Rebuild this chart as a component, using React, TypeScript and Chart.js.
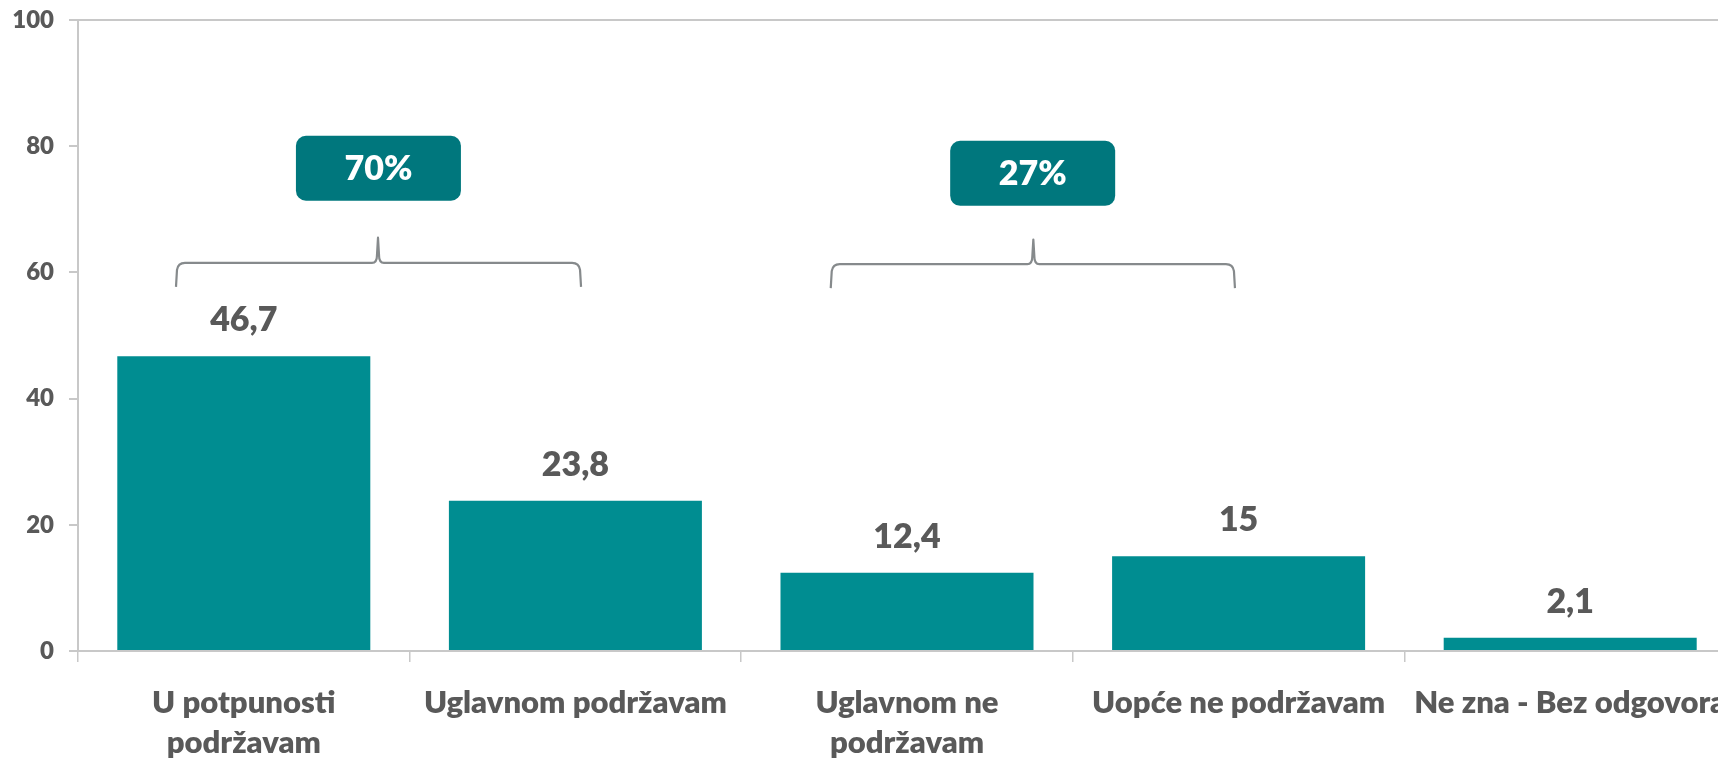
import React, { useEffect, useRef } from "react";
import { Chart, registerables } from "chart.js";

Chart.register(...registerables);

const categories: (string | string[])[] = [
  ["U potpunosti", "podržavam"],
  "Uglavnom podržavam",
  ["Uglavnom ne", "podržavam"],
  "Uopće ne podržavam",
  "Ne zna - Bez odgovora",
];
const values = [46.7, 23.8, 12.4, 15, 2.1];
const valueLabels = ["46,7", "23,8", "12,4", "15", "2,1"];
const yTicks = [0, 20, 40, 60, 80, 100];

// group annotations (category-index / value units)
const groupLabels = ["70%", "27%"];
const groupBoxX = [0.406, 2.379];
const groupBoxY = [76.5, 75.7];
const bracketLeft = [-0.2045, 1.77];
const bracketRight = [1.017, 2.989];
const bracketPeak = [0.4047, 2.381];
const bracketBottom = [57.7, 57.5];
const bracketMid = [61.5, 61.3];
const bracketTop = [65.5, 65.2];

const FONT = "Lato, 'Open Sans', 'Noto Sans', sans-serif";
const W = "800";
const TEXT = "#595959";
const AXIS = "#c8c8c8";
const BAR = "#008d91";
const BOX = "#00777d";
const BRACE = "#868a8c";

const annotPlugin = {
  id: "annot",
  afterDatasetsDraw(chart: any) {
    const { ctx, scales } = chart;
    const xs = scales.x;
    const ys = scales.y;
    const meta = chart.getDatasetMeta(0);
    ctx.save();
    // value labels
    ctx.fillStyle = TEXT;
    ctx.font = `${W} 34px ${FONT}`;
    ctx.textAlign = "center";
    ctx.textBaseline = "middle";
    meta.data.forEach((bar: any, i: number) => {
      ctx.fillText(valueLabels[i], bar.x, bar.y - 36);
    });
    // brackets
    ctx.strokeStyle = BRACE;
    ctx.lineWidth = 2.2;
    ctx.lineJoin = "round";
    for (let i = 0; i < groupLabels.length; i++) {
      const x1 = xs.getPixelForValue(bracketLeft[i]);
      const x2 = xs.getPixelForValue(bracketRight[i]);
      const xp = xs.getPixelForValue(bracketPeak[i]);
      const yb = ys.getPixelForValue(bracketBottom[i]);
      const yh = ys.getPixelForValue(bracketMid[i]);
      const yt = ys.getPixelForValue(bracketTop[i]);
      const r = 7;
      ctx.beginPath();
      ctx.moveTo(x1, yb);
      ctx.lineTo(x1 + 1, yh + r);
      ctx.quadraticCurveTo(x1 + 2, yh, x1 + r + 2, yh);
      ctx.lineTo(xp - 6, yh);
      ctx.quadraticCurveTo(xp - 1, yh, xp - 1, yh - 8);
      ctx.lineTo(xp, yt);
      ctx.lineTo(xp + 1, yh - 8);
      ctx.quadraticCurveTo(xp + 1, yh, xp + 6, yh);
      ctx.lineTo(x2 - r - 2, yh);
      ctx.quadraticCurveTo(x2 - 2, yh, x2 - 1, yh + r);
      ctx.lineTo(x2, yb);
      ctx.stroke();
    }
    // boxes
    for (let i = 0; i < groupLabels.length; i++) {
      const cx = xs.getPixelForValue(groupBoxX[i]);
      const cy = ys.getPixelForValue(groupBoxY[i]);
      const w = 165;
      const h = 65;
      ctx.fillStyle = BOX;
      ctx.beginPath();
      ctx.roundRect(cx - w / 2, cy - h / 2, w, h, 10);
      ctx.fill();
      ctx.fillStyle = "#ffffff";
      ctx.font = `${W} 34px ${FONT}`;
      ctx.fillText(groupLabels[i], cx, cy + 1);
    }
    ctx.restore();
  },
};

export default function App() {
  const ref = useRef<HTMLCanvasElement | null>(null);
  useEffect(() => {
    document.body.style.margin = "0";
    document.body.style.overflow = "hidden";
    const canvas = ref.current!;
    const chart = new Chart(canvas, {
      type: "bar",
      data: {
        labels: categories,
        datasets: [
          {
            data: values,
            backgroundColor: BAR,
            borderWidth: 0,
            categoryPercentage: 1,
            barPercentage: 0.763,
          },
        ],
      },
      options: {
        responsive: false,
        animation: false,
        layout: { padding: { left: 0, top: 20, right: 4, bottom: 0 } },
        plugins: {
          legend: { display: false },
          tooltip: { enabled: false },
        },
        scales: {
          x: {
            offset: true,
            grid: {
              offset: true,
              drawOnChartArea: false,
              tickLength: 11,
              tickColor: AXIS,
              lineWidth: 1.5,
            },
            border: { color: AXIS, width: 2 },
            ticks: {
              color: TEXT,
              font: { family: FONT, size: 31, weight: W, lineHeight: 1.3 },
              padding: 21,
              maxRotation: 0,
              autoSkip: false,
            },
            afterFit(scale: any) {
              scale.height = 109;
              scale.paddingLeft = 0;
              scale.paddingRight = 0;
            },
          },
          y: {
            min: 0,
            max: 100,
            afterBuildTicks(scale: any) {
              scale.ticks = yTicks.map((v) => ({ value: v }));
            },
            grid: {
              color: (c: any) => (c.tick && c.tick.value === 100 ? AXIS : "rgba(0,0,0,0)"),
              tickColor: AXIS,
              tickLength: 9,
              lineWidth: 2,
            },
            border: { color: AXIS, width: 2 },
            ticks: {
              color: TEXT,
              font: { family: FONT, size: 24, weight: W },
              padding: 15,
            },
            afterFit(scale: any) {
              scale.width = 78;
              scale.paddingTop = 0;
              scale.paddingBottom = 0;
            },
          },
        },
      },
      plugins: [annotPlugin],
    } as any);
    return () => chart.destroy();
  }, []);
  return (
    <div style={{ width: 1718, height: 760, overflow: "hidden", position: "relative" }}>
      <canvas ref={ref} width={1740} height={760} style={{ display: "block", width: 1740, height: 760 }} />
    </div>
  );
}
